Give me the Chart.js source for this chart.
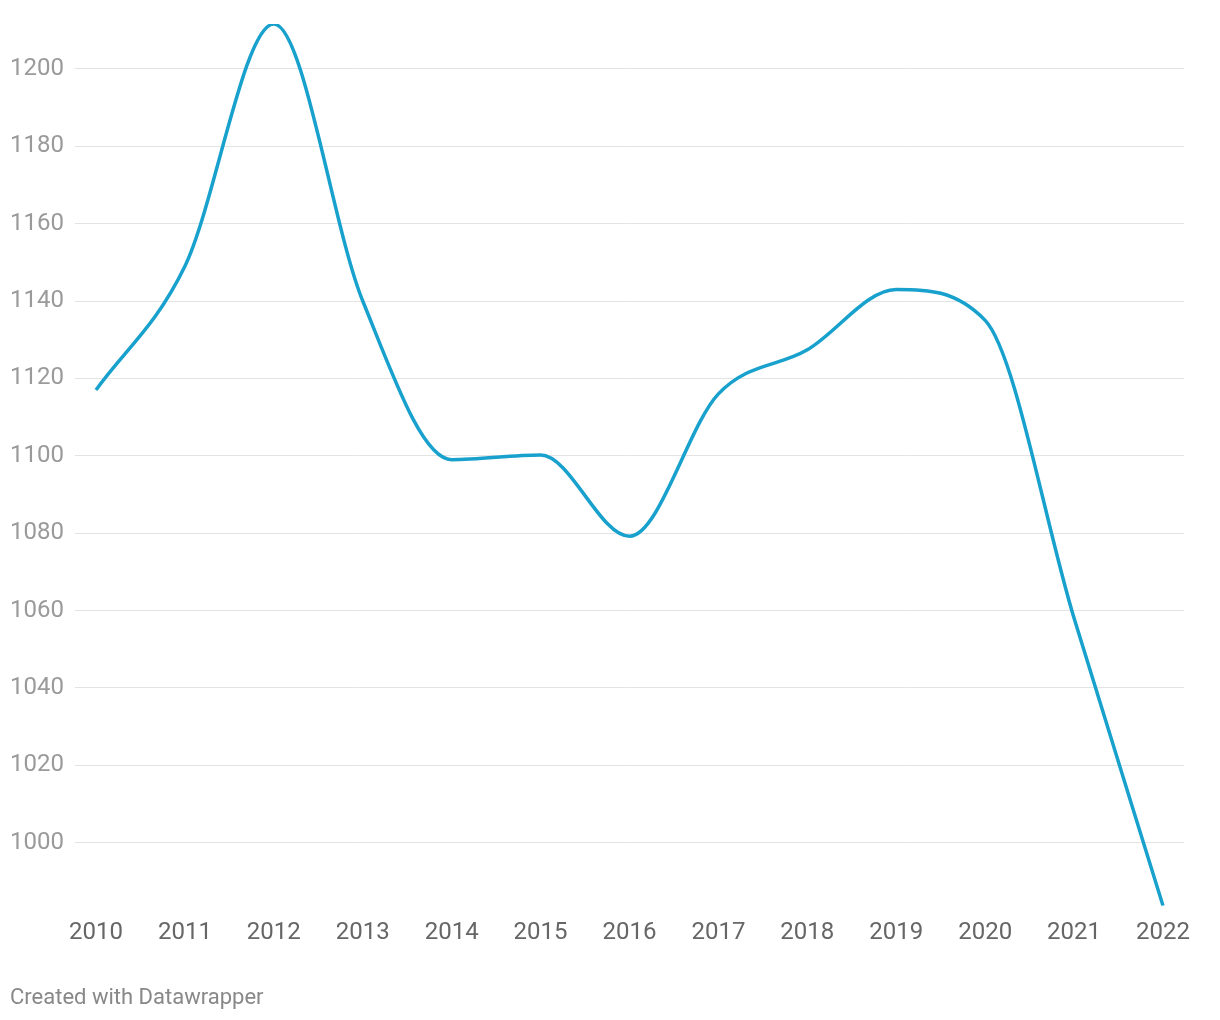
<!DOCTYPE html>
<html>
<head>
<meta charset="utf-8">
<script src="https://cdn.jsdelivr.net/npm/chart.js@4"></script>
<style>
  html, body { margin: 0; padding: 0; background: #fff; }
  #wrap { position: relative; width: 1220px; height: 1020px; }
  #chartBox { position: absolute; left: 0; top: 0; width: 1220px; height: 1020px; }
  #footer { position: absolute; left: 10px; top: 984px; font-family: Roboto, sans-serif; font-size: 22px; color: #888; }
</style>
</head>
<body>
<div id="wrap">
  <div id="chartBox"><canvas id="c"></canvas></div>
  <div id="footer">Created with Datawrapper</div>
</div>
<script>
const years = [2010, 2011, 2012, 2013, 2014, 2015, 2016, 2017, 2018, 2019, 2020, 2021, 2022];
const values = [1117, 1149, 1211.6, 1140, 1099, 1100.2, 1079.2, 1116, 1127.4, 1143, 1135, 1058, 983.7];
const yTicks = [1000, 1020, 1040, 1060, 1080, 1100, 1120, 1140, 1160, 1180, 1200];

const ctx = document.getElementById('c');
new Chart(ctx, {
  type: 'line',
  data: {
    datasets: [{
      data: years.map((y, i) => ({ x: y, y: values[i] })),
      borderColor: '#18a1cd',
      borderWidth: 3.5,
      pointRadius: 0,
      fill: false,
      cubicInterpolationMode: 'monotone'
    }]
  },
  options: {
    responsive: true,
    maintainAspectRatio: false,
    animation: false,
    layout: { padding: { left: 10, right: 36, top: 24, bottom: 59.5 } },
    plugins: { legend: { display: false }, tooltip: { enabled: false } },
    scales: {
      x: {
        type: 'linear',
        min: 2009.764,
        max: 2022.236,
        afterBuildTicks: (s) => { s.ticks = years.map(v => ({ value: v })); },
        grid: { display: false, drawTicks: false },
        border: { display: false },
        ticks: {
          color: '#666',
          font: { family: 'Roboto', size: 24 },
          padding: 13,
          maxRotation: 0,
          autoSkip: false,
          callback: (v) => String(v)
        }
      },
      y: {
        min: 983.7,
        max: 1211.6,
        afterBuildTicks: (s) => { s.ticks = yTicks.map(v => ({ value: v })); },
        afterFit: (s) => { s.width = 65; },
        grid: { color: '#e3e3e3', lineWidth: 1, drawTicks: false },
        border: { display: false },
        ticks: {
          color: '#9a9a9a',
          font: { family: 'Roboto', size: 24 },
          padding: 0,
          crossAlign: 'far',
          callback: (v) => String(v)
        }
      }
    }
  }
});
</script>
</body>
</html>
